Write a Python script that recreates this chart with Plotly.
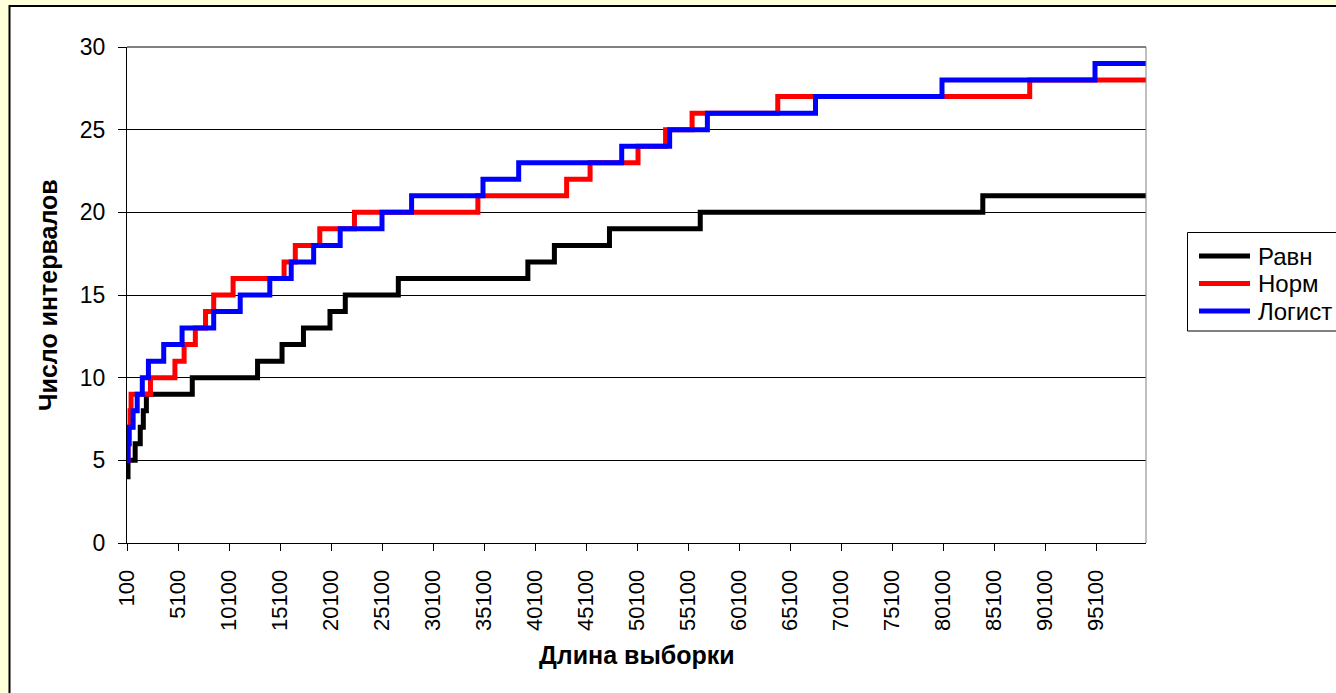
import plotly.graph_objects as go

# Sample length at which the interval count changes, and the count from there on
x_ravn = [100, 200, 900, 1400, 1700, 2000, 6500, 12900, 15300, 17400, 20000, 21500,
          26700, 39400, 42000, 47400, 56300, 84000, 100000]
y_ravn = [4, 5, 6, 7, 8, 9, 10, 11, 12, 13, 14, 15, 16, 17, 18, 19, 20, 21, 21]

x_norm = [100, 200, 300, 400, 500, 2400, 4800, 5700, 6800, 7800, 8600, 10500, 15500,
          16600, 19000, 22400, 34500, 43200, 45500, 50200, 52900, 55500, 63900, 88600, 100000]
y_norm = [5, 6, 7, 8, 9, 10, 11, 12, 13, 14, 15, 16, 17, 18, 19, 20, 21, 22, 23, 24,
          25, 26, 27, 28, 28]

x_logist = [100, 200, 300, 700, 1100, 1600, 2200, 3700, 5500, 8600, 11200, 14100, 16200,
            18400, 21000, 25100, 28000, 35000, 38500, 48600, 53300, 57000, 67600, 80000,
            95000, 100000]
y_logist = [5, 6, 7, 8, 9, 10, 11, 12, 13, 14, 15, 16, 17, 18, 19, 20, 21, 22, 23, 24,
            25, 26, 27, 28, 29, 29]

x_ticks = list(range(100, 100001, 5000))
y_ticks = [0, 5, 10, 15, 20, 25, 30]

FONT = "Arial, Liberation Sans, sans-serif"
W, H = 1336, 693
L, R, T, B = 127, 1146, 47, 543
PW, PH = R - L, B - T


def px(xp):
    return (xp - L) / PW


def py(yp):
    return (B - yp) / PH


series = [
    ("Равн", x_ravn, y_ravn, "#000000"),
    ("Норм", x_norm, y_norm, "#FF0000"),
    ("Логист", x_logist, y_logist, "#0000FF"),
]

fig = go.Figure()
for name, xs, ys, color in series:
    fig.add_trace(go.Scatter(
        x=xs, y=ys, name=name, mode="lines", showlegend=False,
        line=dict(color=color, width=5, shape="hv"),
    ))

shapes = [
    # white chart area with black frame
    dict(type="rect", xref="paper", yref="paper",
         x0=px(9.5), x1=px(1345), y0=py(705), y1=py(6),
         fillcolor="#FFFFFF", line=dict(color="#000000", width=2), layer="below"),
    # grey plot-area border on top and right
    dict(type="line", xref="paper", yref="paper", x0=0, x1=1, y0=1, y1=1,
         line=dict(color="#808080", width=2), layer="above"),
    dict(type="line", xref="paper", yref="paper", x0=1, x1=1, y0=0, y1=1,
         line=dict(color="#808080", width=1), layer="above"),
    # legend box
    dict(type="rect", xref="paper", yref="paper",
         x0=px(1187.5), x1=px(1360), y0=py(331), y1=py(232.5),
         fillcolor="#FFFFFF", line=dict(color="#000000", width=1), layer="above"),
]

annotations = [
    dict(text="<b>Число интервалов</b>", xref="paper", yref="paper",
         x=px(48), y=0.5, xanchor="center", yanchor="middle", textangle=-90,
         showarrow=False, font=dict(family=FONT, size=25, color="#000000")),
    dict(text="<b>Длина выборки</b>", xref="paper", yref="paper",
         x=0.5, y=py(655), xanchor="center", yanchor="middle",
         showarrow=False, font=dict(family=FONT, size=25, color="#000000")),
]

# legend entries: line sample and series name
for i, (name, _, _, color) in enumerate(series):
    row_y = 256 + i * 27.5
    shapes.append(dict(type="line", xref="paper", yref="paper",
                       x0=px(1199), x1=px(1250), y0=py(row_y), y1=py(row_y),
                       line=dict(color=color, width=5), layer="above"))
    annotations.append(dict(text=name, xref="paper", yref="paper",
                            x=px(1256), y=py(row_y), xanchor="left", yanchor="middle",
                            showarrow=False,
                            font=dict(family=FONT, size=24, color="#000000")))

fig.update_layout(
    width=W, height=H,
    margin=dict(l=L, r=W - R, t=T, b=H - B, pad=0),
    paper_bgcolor="#FFFFD9",
    plot_bgcolor="#FFFFFF",
    font=dict(family=FONT, size=22, color="#000000"),
    showlegend=False,
    xaxis=dict(
        range=[100, 100000], tickmode="array", tickvals=x_ticks,
        ticktext=[str(v) for v in x_ticks], tickangle=-90,
        ticks="outside", ticklen=7, tickcolor="#000000", tickwidth=1,
        ticklabelstandoff=10,
        showline=True, linecolor="#000000", linewidth=1,
        showgrid=False, zeroline=False,
        tickfont=dict(family=FONT, size=22, color="#000000"),
    ),
    yaxis=dict(
        range=[0, 30], tickmode="array", tickvals=y_ticks,
        ticks="outside", ticklen=8, tickcolor="#000000", tickwidth=1,
        ticklabelstandoff=8,
        showline=True, linecolor="#000000", linewidth=1,
        showgrid=True, gridcolor="#000000", gridwidth=1, zeroline=False,
        tickfont=dict(family=FONT, size=23, color="#000000"),
    ),
    shapes=shapes,
    annotations=annotations,
)

fig.write_html("out.html")
